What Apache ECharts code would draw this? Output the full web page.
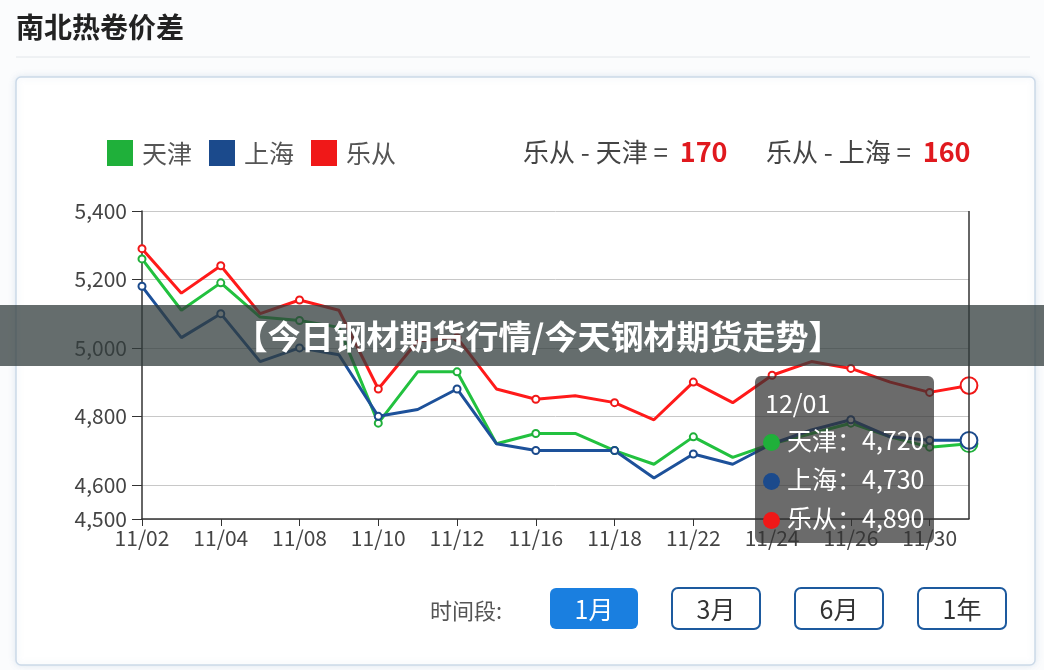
<!DOCTYPE html>
<html><head><meta charset="utf-8">
<script src="https://cdn.jsdelivr.net/npm/echarts@6/dist/echarts.min.js"></script>
<style>html,body{margin:0;padding:0;background:#fbfcfd}#c{width:1044px;height:670px}</style>
</head><body><div id="c"></div>
<script>
const dates = ['11/02','11/03','11/04','11/05','11/08','11/09','11/10','11/11','11/12','11/15','11/16','11/17','11/18','11/19','11/22','11/23','11/24','11/25','11/26','11/29','11/30','12/01'];
const tianjin = [5260,5110,5190,5090,5080,5060,4780,4930,4930,4720,4750,4750,4700,4660,4740,4680,4720,4750,4780,4740,4710,4720];
const shanghai = [5180,5030,5100,4960,5000,4980,4800,4820,4880,4720,4700,4700,4700,4620,4690,4660,4720,4760,4790,4740,4730,4730];
const lecong = [5290,5160,5240,5100,5140,5110,4880,5020,5030,4880,4850,4860,4840,4790,4900,4840,4920,4960,4940,4900,4870,4890];
const seriesNames = ['天津','上海','乐从'];
const yTickValues = [4500,4600,4800,5000,5200,5400];
const periods = ['1月','3月','6月','1年'];
const pageTitle = '南北热卷价差';
const bannerText = '【今日钢材期货行情/今天钢材期货走势】';
const periodLabel = '时间段:';

const FONT = '"Noto Sans CJK SC","Noto Sans",sans-serif';
const colors = ['#1fb03a','#1b4a8c','#f01818'];
const last = dates.length - 1;
const diffTJ = lecong[last] - tianjin[last];
const diffSH = lecong[last] - shanghai[last];

const chart = echarts.init(document.getElementById('c'));

const btnX = [550, 672, 795, 918];
const buttons = periods.map((p, i) => ({
  type: 'group', z: 5,
  children: [
    { type: 'rect', shape: { x: btnX[i], y: 588, width: 88, height: 41, r: 6 },
      style: i === 0 ? { fill: '#1a7fe0' } : { fill: '#fff', stroke: '#1d5a9e', lineWidth: 2 } },
    { type: 'text', style: { text: p, x: btnX[i] + 44, y: 609, align: 'center', verticalAlign: 'middle',
      fontSize: 25, fontFamily: FONT, fill: i === 0 ? '#fff' : '#333' } }
  ]
}));

const series = [tianjin, shanghai, lecong].map((d, i) => ({
  name: seriesNames[i], type: 'line', data: d,
  symbol: 'emptyCircle', symbolSize: 7, showAllSymbol: false,
  lineStyle: { width: 3, color: colors[i] },
  itemStyle: { color: colors[i], borderWidth: 1.5 },
  emphasis: { scale: 2.4, lineStyle: { width: 3 } }
}));

const diffRich = {
  t: { fontSize: 26, fill: '#444', fontFamily: FONT },
  n: { fontSize: 27, fontWeight: 'bold', fill: '#e0191e', fontFamily: FONT, padding: [0, 0, 0, 6] }
};

chart.setOption({
  animation: false,
  color: colors,
  backgroundColor: '#fbfcfd',
  textStyle: { fontFamily: FONT },
  graphic: [
    { type: 'rect', z: -10, shape: { x: 16, y: 77, width: 1019, height: 588, r: 5 },
      style: { fill: '#fff', stroke: '#cbd9e8', lineWidth: 1.5, shadowBlur: 6, shadowColor: 'rgba(150,180,210,0.25)' } },
    { type: 'text', style: { text: pageTitle, x: 16, y: 27, verticalAlign: 'middle', fontSize: 28, fontWeight: 'bold', fontFamily: FONT, fill: '#222' } },
    { type: 'line', shape: { x1: 16, y1: 57, x2: 1030, y2: 57 }, style: { stroke: '#e2e6ea', lineWidth: 1 } },
    { type: 'text', style: { text: '{t|乐从 - 天津 = }{n|' + diffTJ + '}', x: 523, y: 152, verticalAlign: 'middle', rich: diffRich } },
    { type: 'text', style: { text: '{t|乐从 - 上海 = }{n|' + diffSH + '}', x: 766, y: 152, verticalAlign: 'middle', rich: diffRich } },
    { type: 'text', style: { text: periodLabel, x: 430, y: 611, verticalAlign: 'middle', fontSize: 22, fontFamily: FONT, fill: '#555' } },
    ...buttons,
    { type: 'rect', z: 100, shape: { x: 0, y: 305, width: 1044, height: 61 }, style: { fill: 'rgba(50,60,60,0.75)' } },
    { type: 'text', z: 101, style: { text: bannerText, x: 538, y: 336, align: 'center', verticalAlign: 'middle',
      fontSize: 33, fontWeight: 'bold', fontFamily: FONT, fill: '#fff' } }
  ],
  legend: {
    data: seriesNames, left: 107, top: 140, padding: 0, icon: 'rect',
    itemWidth: 26, itemHeight: 26, itemGap: 17,
    textStyle: { fontSize: 25, color: '#555', fontFamily: FONT, padding: [0, 0, 0, 4] }
  },
  grid: { left: 142, right: 75, top: 211, bottom: 151 },
  tooltip: {
    trigger: 'axis', triggerOn: 'none', alwaysShowContent: true,
    position: [755, 376],
    backgroundColor: 'rgba(50,50,50,0.72)', borderWidth: 0, padding: [8, 10, 6, 8],
    textStyle: { color: '#fff', fontSize: 25, fontFamily: FONT },
    extraCssText: 'box-shadow:none;border-radius:6px;font-family:' + FONT.replace(/"/g, "'") + ';',
    transitionDuration: 0,
    axisPointer: { type: 'line', animation: false, lineStyle: { color: '#333', width: 1.5, type: 'solid' } },
    formatter: params => {
      let h = '<div style="font-size:25px;line-height:36px;padding-left:2px">' + params[0].axisValue + '</div>';
      params.forEach(p => {
        h += '<div style="font-size:25px;line-height:39px;white-space:nowrap"><span style="display:inline-block;width:17px;height:17px;border-radius:50%;background:' + p.color + ';margin-right:7px;vertical-align:-1px"></span>' + p.seriesName + '：' + p.value.toLocaleString('en-US') + '</div>';
      });
      return h;
    }
  },
  xAxis: {
    type: 'category', data: dates, boundaryGap: false,
    axisLine: { lineStyle: { color: '#333', width: 1.5 } },
    axisTick: { interval: 1, length: 7, lineStyle: { color: '#333' } },
    axisLabel: { interval: 1, fontSize: 21, color: '#444', margin: 9, fontFamily: FONT },
    splitLine: { show: false }
  },
  yAxis: {
    type: 'value', min: 4500, max: 5400, interval: 100,
    axisLine: { show: true, lineStyle: { color: '#333', width: 1.5 } },
    axisTick: { show: true, length: 10, customValues: yTickValues, lineStyle: { color: '#333' } },
    axisLabel: { fontSize: 21, color: '#444', margin: 15, fontFamily: FONT, customValues: yTickValues,
      formatter: v => v.toLocaleString('en-US') },
    splitLine: { show: true, lineStyle: { color: '#c8c8c8', width: 1 } }
  },
  series: series
});

chart.dispatchAction({ type: 'showTip', seriesIndex: 0, dataIndex: last });
</script>
</body></html>
